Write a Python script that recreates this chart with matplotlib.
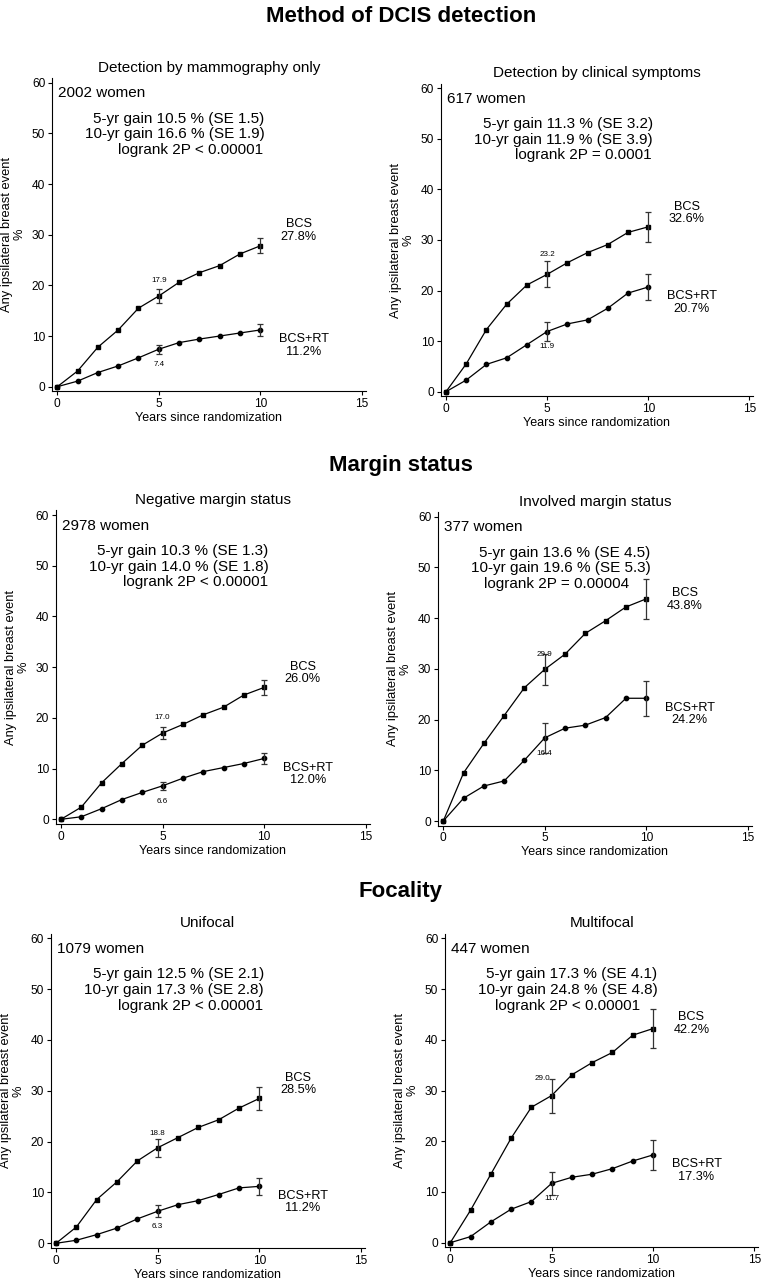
import matplotlib
matplotlib.use("Agg")
import matplotlib.pyplot as plt

plt.rcParams["font.family"] = ["Liberation Sans", "DejaVu Sans"]

W, H = 762, 1280

YEARS = list(range(11))
ERR_YEARS = [5, 10]

SECTIONS = ["Method of DCIS detection", "Margin status", "Focality"]

TITLES = [
    "Detection by mammography only",
    "Detection by clinical symptoms",
    "Negative margin status",
    "Involved margin status",
    "Unifocal",
    "Multifocal",
]
WOMEN = [2002, 617, 2978, 377, 1079, 447]
GAIN5 = [(10.5, 1.5), (11.3, 3.2), (10.3, 1.3), (13.6, 4.5), (12.5, 2.1), (17.3, 4.1)]
GAIN10 = [(16.6, 1.9), (11.9, 3.9), (14.0, 1.8), (19.6, 5.3), (17.3, 2.8), (24.8, 4.8)]
LOGRANK = ["< 0.00001", "= 0.0001", "< 0.00001", "= 0.00004", "< 0.00001", "< 0.00001"]

# cumulative risk (%) at years 0..10
BCS = [
    [0, 3.1, 7.8, 11.2, 15.5, 17.9, 20.6, 22.5, 23.9, 26.2, 27.8],
    [0, 5.5, 12.3, 17.3, 21.1, 23.2, 25.5, 27.5, 29.1, 31.5, 32.6],
    [0, 2.4, 7.2, 11.0, 14.6, 17.0, 18.7, 20.6, 22.1, 24.5, 26.0],
    [0, 9.5, 15.3, 20.8, 26.3, 29.9, 32.9, 37.0, 39.5, 42.2, 43.8],
    [0, 3.2, 8.6, 12.1, 16.2, 18.8, 20.8, 22.8, 24.3, 26.6, 28.5],
    [0, 6.4, 13.5, 20.6, 26.7, 29.0, 33.1, 35.5, 37.5, 40.9, 42.2],
]
BCS_RT = [
    [0, 1.1, 2.8, 4.1, 5.7, 7.4, 8.7, 9.4, 10.0, 10.6, 11.2],
    [0, 2.3, 5.4, 6.7, 9.3, 11.9, 13.4, 14.2, 16.5, 19.5, 20.7],
    [0, 0.5, 2.1, 3.9, 5.3, 6.6, 8.1, 9.4, 10.2, 11.0, 12.0],
    [0, 4.5, 6.9, 7.9, 12.0, 16.4, 18.3, 18.9, 20.4, 24.2, 24.2],
    [0, 0.6, 1.7, 3.0, 4.8, 6.3, 7.6, 8.4, 9.6, 10.9, 11.2],
    [0, 1.2, 4.1, 6.6, 8.1, 11.7, 12.9, 13.5, 14.6, 16.1, 17.3],
]
# standard errors at years 5 and 10
BCS_SE = [[1.3, 1.5], [2.55, 2.9], [1.15, 1.45], [3.1, 4.0], [1.8, 2.3], [3.35, 3.9]]
BCS_RT_SE = [[0.9, 1.1], [1.95, 2.6], [0.75, 1.15], [2.9, 3.5], [1.2, 1.6], [2.25, 2.9]]

# layout: pixel positions of x=0, x=15, y=0, y=60 for each panel
PANEL_PX = [
    (57.3, 361.7, 386.7, 82.7),
    (446.0, 749.3, 391.7, 88.3),
    (61.0, 365.7, 819.3, 515.0),
    (443.3, 747.7, 821.0, 516.7),
    (56.0, 361.0, 1243.3, 938.3),
    (450.3, 754.3, 1242.7, 938.3),
]
SECTION_Y = [16, 466, 891]
BCS_LABEL_Y = [30.8, 35.4, 28.85, 43.7, 31.3, 43.2]
TOP_LABEL_OFF = [3.0, 4.0, 3.0, 2.95, 2.8, 0]
LOGRANK_X = [10.15, 10.17, 10.2, 9.17, 10.2, 9.37]
XMIN, XMAX, YMIN, YMAX = -0.27, 15.2, -0.9, 60.9


def axes_rect(px):
    x0, x15, y0, y60 = px
    ppx = (x15 - x0) / 15
    ppy = (y0 - y60) / 60
    left = x0 + XMIN * ppx
    right = x0 + XMAX * ppx
    bottom = y0 - YMIN * ppy
    top = y0 - YMAX * ppy
    return [left / W, 1 - bottom / H, (right - left) / W, (bottom - top) / H]


def draw_panel(fig, i):
    rect = axes_rect(PANEL_PX[i])
    ax = fig.add_axes(rect)
    bcs = BCS[i]
    rt = BCS_RT[i]

    ax.plot(YEARS, bcs, color="black", linewidth=0.9, marker="s", markersize=3.4)
    ax.plot(YEARS, rt, color="black", linewidth=0.9, marker="o", markersize=3.1)
    ax.errorbar(ERR_YEARS, [bcs[y] for y in ERR_YEARS], yerr=BCS_SE[i], fmt="none",
                ecolor="#333333", elinewidth=0.9, capsize=2.3, capthick=0.9)
    ax.errorbar(ERR_YEARS, [rt[y] for y in ERR_YEARS], yerr=BCS_RT_SE[i], fmt="none",
                ecolor="#333333", elinewidth=0.9, capsize=2.3, capthick=0.9)

    # 5-year values
    if i == 5:
        ax.text(4.92, bcs[5] + BCS_SE[i][0], f"{bcs[5]:.1f}", fontsize=5.8,
                ha="right", va="center")
    else:
        ax.text(5, bcs[5] + TOP_LABEL_OFF[i], f"{bcs[5]:.1f}", fontsize=5.8,
                ha="center", va="center")
    ax.text(5, rt[5] - 3.0, f"{rt[5]:.1f}", fontsize=5.8, ha="center", va="center")

    # end labels
    cy = BCS_LABEL_Y[i]
    ax.text(11.9, cy + 1.22, "BCS", fontsize=9.2, ha="center", va="center")
    ax.text(11.9, cy - 1.22, f"{bcs[10]:.1f}%", fontsize=9.2, ha="center", va="center")
    cy = rt[10] - 3.05
    ax.text(12.15, cy + 1.22, "BCS+RT", fontsize=9.2, ha="center", va="center")
    ax.text(12.15, cy - 1.22, f"{rt[10]:.1f}%", fontsize=9.2, ha="center", va="center")

    # summary text
    ax.text(0.05, 57.9, f"{WOMEN[i]} women", fontsize=11, ha="left", va="center")
    g5, s5 = GAIN5[i]
    g10, s10 = GAIN10[i]
    ax.text(10.22, 52.9, f"5-yr gain {g5:.1f} % (SE {s5:.1f})", fontsize=11,
            ha="right", va="center")
    ax.text(10.22, 49.8, f"10-yr gain {g10:.1f} % (SE {s10:.1f})", fontsize=11,
            ha="right", va="center")
    ax.text(LOGRANK_X[i], 46.75, f"logrank 2P {LOGRANK[i]}", fontsize=11,
            ha="right", va="center")

    ax.set_xlim(XMIN, XMAX)
    ax.set_ylim(YMIN, YMAX)
    ax.set_xticks([0, 5, 10, 15])
    ax.set_yticks(range(0, 61, 10))
    ax.spines["top"].set_visible(False)
    ax.spines["right"].set_visible(False)
    for s in ("left", "bottom"):
        ax.spines[s].set_linewidth(0.8)
    ax.tick_params(direction="out", length=2.8, width=0.8, labelsize=8.6, pad=2)
    ax.set_title(TITLES[i], fontsize=11, pad=4.5)
    ax.set_xlabel("Years since randomization", fontsize=9, labelpad=1.5)
    ax.set_ylabel("Any ipsilateral breast event\n%", fontsize=9.3, linespacing=1.05)
    ax.yaxis.set_label_coords(-26 / (rect[2] * W), 0.5)
    return ax


def main():
    fig = plt.figure(figsize=(W / 100, H / 100), dpi=100)
    for i in range(6):
        draw_panel(fig, i)
    for name, y in zip(SECTIONS, SECTION_Y):
        fig.text(401 / W, 1 - y / H, name, fontsize=16, fontweight="bold",
                 ha="center", va="center")
    fig.savefig("out.png", dpi=100)
    plt.close(fig)


if __name__ == "__main__":
    main()
